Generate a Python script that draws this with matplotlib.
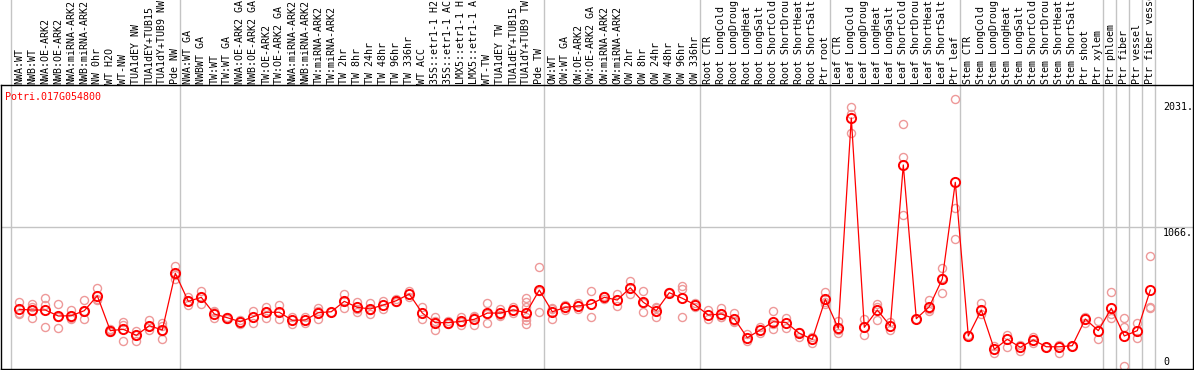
import numpy as np
import matplotlib
matplotlib.use("Agg")
import matplotlib.pyplot as plt
from matplotlib.lines import Line2D

plt.rcParams["font.family"] = ["DejaVu Sans Mono"]

GENE = "Potri.017G054800"

SAMPLES = [
    "NWA:WT", "NWB:WT", "NWA:OE-ARK2", "NWB:OE-ARK2", "NWA:miRNA-ARK2",
    "NWB:miRNA-ARK2", "NW 0hr", "WT H2O", "WT-NW", "TUA1dEY NW",
    "TUA1dEY+TUB15", "TUA1dY+TUB9 NW", "Pde NW",
    "NWA:WT GA", "NWBWT GA", "TW:WT", "TW:WT GA", "NWA:OE-ARK2 GA",
    "NWB:OE-ARK2 GA", "TW:OE-ARK2", "TW:OE-ARK2 GA", "NWA:miRNA-ARK2",
    "NWB:miRNA-ARK2", "TW:miRNA-ARK2", "TW:miRNA-ARK2", "TW 2hr", "TW 8hr",
    "TW 24hr", "TW 48hr", "TW 96hr", "TW 336hr", "WT ACC", "35S::etr1-1 H2",
    "35S::etr1-1 AC", "LMX5::etr1-1 H", "LMX5::etr1-1 A", "WT-TW",
    "TUA1dEY TW", "TUA1dEY+TUB15", "TUA1dY+TUB9 TW", "Pde TW",
    "OW:WT", "OW:WT GA", "OW:OE-ARK2", "OW:OE-ARK2 GA", "OW:miRNA-ARK2",
    "OW:miRNA-ARK2", "OW 2hr", "OW 8hr", "OW 24hr", "OW 48hr", "OW 96hr",
    "OW 336hr",
    "Root CTR", "Root LongCold", "Root LongDroug", "Root LongHeat",
    "Root LongSalt", "Root ShortCold", "Root ShortDrou", "Root ShortHeat",
    "Root ShortSalt", "Ptr root",
    "Leaf CTR", "Leaf LongCold", "Leaf LongDroug", "Leaf LongHeat",
    "Leaf LongSalt", "Leaf ShortCold", "Leaf ShortDrou", "Leaf ShortHeat",
    "Leaf ShortSalt", "Ptr leaf",
    "Stem CTR", "Stem LongCold", "Stem LongDroug", "Stem LongHeat",
    "Stem LongSalt", "Stem ShortCold", "Stem ShortDrou", "Stem ShortHeat",
    "Stem ShortSalt", "Ptr shoot", "Ptr xylem", "Ptr phloem", "Ptr fiber",
    "Ptr vessel", "Ptr fiber vessel",
]

MEANS = [
    448, 443, 443, 398, 400, 438, 550, 288, 298, 253, 325, 293, 719,
    508, 538, 413, 385, 355, 393, 426, 426, 366, 368, 423, 430, 508, 463,
    451, 481, 513, 563, 420, 348, 348, 358, 373, 420, 420, 443, 423, 593,
    430, 463, 473, 488, 538, 518, 610, 501, 438, 573, 531, 481,
    405, 413, 378, 235, 293, 355, 348, 268, 223, 523,
    306, 1885, 313, 443, 323, 1532, 378, 468, 676, 1402,
    248, 443, 148, 223, 163, 218, 167, 167, 175, 375, 288, 456, 248, 288, 593,
]

REPS = [
    [501, 423, 413], [486, 468, 381], [531, 478, 313], [488, 393, 306],
    [443, 383, 373], [516, 438, 373], [606, 525, 518], [298, 278, 293],
    [355, 208, 330], [288, 213, 255], [368, 293, 323], [343, 323, 285, 223],
    [773, 674, 706],
    [538, 481, 511], [588, 488, 541], [428, 381, 436], [393, 378],
    [368, 338], [438, 348], [468, 381, 428], [478, 373], [390, 338],
    [348, 387], [456, 375, 436], [430], [563, 456, 511], [505, 430, 451],
    [493, 413, 443], [513, 451], [523, 503], [588, 541], [468, 375],
    [388, 293, 360], [360, 338], [393, 330, 353], [388, 330, 398],
    [498, 348, 413], [448, 405, 398], [468, 420],
    [531, 505, 468, 393, 368, 338], [764, 585, 430],
    [448, 373, 458], [443, 481], [448, 492], [586, 388], [548, 526],
    [563, 473], [661, 563], [586, 426, 496], [460, 388, 466], [578, 568],
    [623, 598, 388], [493, 469],
    [443, 373], [456, 394, 390], [418, 364, 353], [261, 213], [313, 268],
    [436, 298, 338], [381, 306], [280, 243], [243, 197], [580, 488, 503],
    [360, 273, 293], [1965, 1915, 1770], [373, 253], [486, 368, 466],
    [355, 293], [1837, 1594, 1156], [378], [518, 438, 451], [756, 573, 686],
    [2031, 1207, 974],
    [255], [498, 413], [118, 173], [255, 167], [180, 135], [243, 193],
    [167], [122, 180], [175], [393, 343], [360, 223], [576, 381, 413],
    [381, 318, 25], [343, 231], [849, 463, 456],
]

# last sample index of each block (gray separators drawn after these)
GROUP_ENDS = [-1, 12, 40, 52, 62, 72, 83, 84, 85, 86, 87]

RED = "#FF0000"
PINK = "#EE9999"
GRAY = "#C4C4C4"

W, H = 1194, 370
fig = plt.figure(figsize=(W / 100, H / 100), dpi=100)
ax = fig.add_axes([1 / W, 1 / H, 1192 / W, 284 / H])

x = np.arange(len(SAMPLES))
ymax = max(max(r) for r in REPS) * 1.05
ax.set_xlim((1 - 19.3) / 13.0, (1193 - 19.3) / 13.0)
ax.set_ylim(0, ymax)

for g in GROUP_ENDS:
    ax.axvline(g + 0.38, ymin=0, ymax=369 / 284, color=GRAY, lw=1.0,
               clip_on=False, zorder=1)
ax.axhline(ymax / 2, color=GRAY, lw=1.0, zorder=1)

rx = np.concatenate([[i] * len(r) for i, r in enumerate(REPS)])
ry = np.concatenate(REPS)
ax.plot(rx, ry, "o", ms=5.8, mfc="none", mec=PINK, mew=1.0, zorder=2)
ax.plot(x, MEANS, "-", color=RED, lw=0.9, zorder=3)
ax.plot(x, MEANS, "o", ms=6.6, mfc="none", mec=RED, mew=1.4, zorder=4)

blend = matplotlib.transforms.blended_transform_factory(ax.transData, ax.transAxes)
for i, s in enumerate(SAMPLES):
    ax.annotate(s, xy=(i, 1), xycoords=blend, xytext=(0, 1.5),
                textcoords="offset pixels", rotation=90, ha="center",
                va="bottom", fontsize=7.2, annotation_clip=False)

yblend = matplotlib.transforms.blended_transform_factory(ax.transAxes, ax.transData)
tick_x = (1163 - 1) / 1192
for val, txt, dy in [(max(ry), "2031.", -8.8), (ymax / 2, "1066.", -5.7), (0, "0", 7.3)]:
    ax.annotate(txt, xy=(tick_x, val), xycoords=yblend, xytext=(0, dy),
                textcoords="offset pixels", ha="left", va="center",
                fontsize=7.2)

fig.text(5 / W, 1 - 97 / H, GENE, color=RED, ha="left", va="center", fontsize=7.2)

ax.set_xticks([])
ax.set_yticks([])
for sp in ax.spines.values():
    sp.set_linewidth(1.0)
    sp.set_color("black")
fig.add_artist(Line2D([1192.5 / W, 1192.5 / W], [285 / H, 1], color="black",
                      lw=1.0, transform=fig.transFigure))

fig.savefig("out.png", dpi=100)
